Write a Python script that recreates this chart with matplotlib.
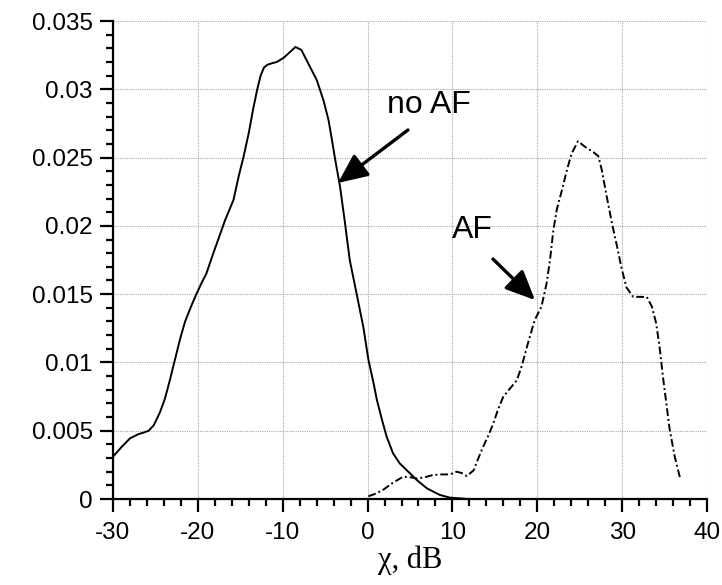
import numpy as np
import matplotlib
matplotlib.use('Agg')
import matplotlib.pyplot as plt
from matplotlib.ticker import MultipleLocator, FuncFormatter
from matplotlib.patches import ArrowStyle

plt.rcParams['font.family'] = ['Liberation Sans', 'DejaVu Sans']
plt.rcParams['axes.unicode_minus'] = False

# courbe sans AF (trait plein)
chi_noaf = [-30, -29, -28, -27, -26.4, -25.8, -25.2, -24.5, -23.9, -23.3, -22.7, -22.1,
            -21.5, -20.8, -20.1, -19.5, -19.0, -18.4, -17.6, -16.8, -15.8, -15.2, -14.6,
            -14.0, -13.5, -13.0, -12.6, -12.2, -11.8, -11.3, -10.7, -9.9, -9.1, -8.5, -7.8,
            -6.8, -6.0, -5.2, -4.6, -4.2, -3.8, -3.25, -2.7, -2.1, -1.3, -0.5, 0.1, 0.7, 1.1,
            1.7, 2.25, 3.0, 3.8, 5.0, 5.8, 7.0, 8.5, 9.7, 11.9]
p_noaf = [0.0031, 0.0038, 0.00444, 0.00475, 0.00486, 0.0050, 0.0054, 0.0063, 0.0073, 0.0087,
          0.0102, 0.0117, 0.0130, 0.0141, 0.0151, 0.0159, 0.0165, 0.0176, 0.0190, 0.0204,
          0.0219, 0.0236, 0.0251, 0.0268, 0.0285, 0.0300, 0.0310, 0.0316, 0.0318, 0.0319,
          0.0320, 0.0323, 0.03275, 0.0331, 0.03288, 0.03166, 0.0307, 0.0292, 0.02775, 0.0263,
          0.0248, 0.0229, 0.0204, 0.0175, 0.01506, 0.0126, 0.0102, 0.0085, 0.00725, 0.0058,
          0.00456, 0.00335, 0.0026, 0.00188, 0.00139, 0.00078, 0.0003, 0.0001, 0.0]

# courbe avec AF (tirets)
chi_af = [0.1, 1.0, 1.9, 3.0, 4.2, 5.0, 5.8, 6.8, 7.7, 8.7, 9.7, 10.5, 11.1, 11.7, 12.5,
          13.0, 13.6, 14.2, 14.8, 15.4, 16.0, 16.8, 17.6, 18.2, 18.9, 19.7, 20.5, 21.1,
          21.5, 21.9, 22.3, 22.9, 23.5, 24.05, 24.8, 25.6, 26.6, 27.2, 27.6, 28.2, 28.8,
          29.4, 29.9, 30.5, 31.3, 32.1, 32.9, 33.5, 34.0, 34.4, 34.86, 35.25, 35.6, 36.2, 36.8]
p_af = [0.0002, 0.0004, 0.0007, 0.0012, 0.00163, 0.0016, 0.0015, 0.0016, 0.00176, 0.0018,
        0.0018, 0.0020, 0.0019, 0.00168, 0.0021, 0.0029, 0.0038, 0.0046, 0.0055, 0.0066,
        0.0075, 0.0081, 0.0087, 0.0098, 0.0114, 0.0131, 0.0141, 0.0158, 0.0175, 0.0197,
        0.0212, 0.0226, 0.0241, 0.0253, 0.0262, 0.0258, 0.0254, 0.0251, 0.0241, 0.0221,
        0.0202, 0.0185, 0.0170, 0.0155, 0.0148, 0.0148, 0.0148, 0.0141, 0.0129, 0.0112,
        0.0087, 0.0068, 0.0051, 0.0031, 0.0016]

y_labels = ['0', '0.005', '0.01', '0.015', '0.02', '0.025', '0.03', '0.035']

fig = plt.figure(figsize=(7.22, 5.85), dpi=100)
ax = fig.add_axes([0.1565, 0.147, 0.8227, 0.8171])

ax.plot(chi_noaf, p_noaf, color='black', lw=1.4, solid_joinstyle='round')
ax.plot(chi_af, p_af, color='black', lw=1.4, linestyle=(0, (4, 1.5, 1, 1.5)))

ax.set_xlim(-30, 40)
ax.set_ylim(0, 0.035)
ax.xaxis.set_major_locator(MultipleLocator(10))
ax.xaxis.set_minor_locator(MultipleLocator(2))
ax.yaxis.set_major_locator(MultipleLocator(0.005))
ax.yaxis.set_minor_locator(MultipleLocator(0.001))
ax.yaxis.set_major_formatter(FuncFormatter(lambda v, pos: y_labels[int(round(v / 0.005))]
                                           if 0 <= round(v / 0.005) < len(y_labels) else ''))
ax.xaxis.set_major_formatter(FuncFormatter(lambda v, pos: '%d' % round(v)))

ax.grid(True, which='major', color='#a8a8a8', linestyle=(0, (1, 1)), lw=0.8)
ax.set_axisbelow(True)

for s in ['top', 'right']:
    ax.spines[s].set_visible(False)
for s in ['left', 'bottom']:
    ax.spines[s].set_linewidth(1.6)

ax.tick_params(which='major', direction='out', length=9.5, width=1.6, labelsize=17.5)
ax.tick_params(which='minor', direction='out', length=5, width=1.6)
ax.tick_params(axis='y', which='major', pad=5)
ax.tick_params(axis='x', which='major', pad=7)

ax.set_xlabel('χ, dB', family=['Liberation Serif', 'DejaVu Serif'], fontsize=22, labelpad=1)

arrow = ArrowStyle('-|>', head_length=1.0, head_width=0.45)
ax.text(2.29, 0.02826, 'no AF', fontsize=23, ha='left', va='baseline')
ax.annotate('', xy=(-3.49, 0.02314), xytext=(4.76, 0.02702),
            arrowprops=dict(arrowstyle=arrow, color='black', lw=2.4, mutation_scale=18,
                            shrinkA=0, shrinkB=0))
ax.text(9.95, 0.01911, 'AF', fontsize=23, ha='left', va='baseline')
ax.annotate('', xy=(19.73, 0.01457), xytext=(14.78, 0.01757),
            arrowprops=dict(arrowstyle=arrow, color='black', lw=2.4, mutation_scale=18,
                            shrinkA=0, shrinkB=0))

fig.savefig('out.png', dpi=100)
